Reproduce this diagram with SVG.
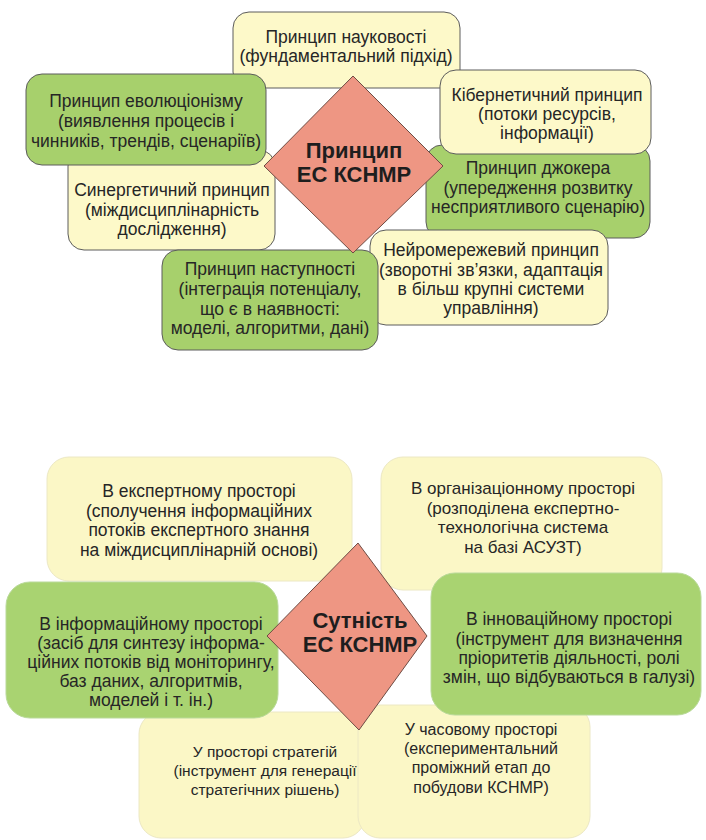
<svg xmlns="http://www.w3.org/2000/svg" width="706" height="840" viewBox="0 0 706 840">
  <style>
    .bg { fill: #ffffff; }
    .ytop { fill: #FDF9C9; stroke: #5c5c5c; stroke-width: 1; }
    .gtop { fill: #A7D06C; stroke: #5c5c5c; stroke-width: 1; }
    .ybot { fill: #FBF7C6; stroke: #ece8c4; stroke-width: 1; }
    .gbot { fill: #A9D371; stroke: #b9d99a; stroke-width: 1; }
    .dia { fill: #EE9683; stroke: #6e4c44; stroke-width: 1; }
    text { font-family: "Liberation Sans", Arial, sans-serif; font-size: 17.5px; fill: #262626; text-anchor: middle; }
    .xs { font-size: 15.5px; }
    .sm { font-size: 16px; }
    .md { font-size: 17px; }
    .title { font-size: 22px; font-weight: bold; fill: #1e1e1e; }
  </style>

  <rect class="bg" x="0" y="0" width="706" height="840"/>

  <!-- Principles of the expert system -->
  <g id="principles">
    <g id="p-science">
      <rect class="ytop" x="233" y="12" width="227" height="76" rx="16"/>
      <text x="346" y="43">Принцип науковості</text>
      <text x="346" y="62">(фундаментальний підхід)</text>
    </g>
    <g id="p-synergy">
      <rect class="ytop" x="68" y="150" width="207" height="100" rx="16"/>
      <text x="172" y="196">Синергетичний принцип</text>
      <text x="172" y="216">(міждисциплінарність</text>
      <text x="172" y="235">дослідження)</text>
    </g>
    <g id="p-evolution">
      <rect class="gtop" x="26" y="74" width="240" height="91" rx="16"/>
      <text x="146" y="107">Принцип еволюціонізму</text>
      <text x="146" y="127">(виявлення процесів і</text>
      <text x="146" y="147">чинників, трендів, сценаріїв)</text>
    </g>
    <g id="p-joker">
      <rect class="gtop" x="426" y="145" width="224" height="93" rx="16"/>
      <text x="538" y="174">Принцип джокера</text>
      <text x="538" y="194">(упередження розвитку</text>
      <text x="538" y="213">несприятливого сценарію)</text>
    </g>
    <g id="p-cybernetic">
      <rect class="ytop" x="440" y="70" width="211" height="84" rx="16"/>
      <text x="547" y="101">Кібернетичний принцип</text>
      <text x="547" y="120">(потоки ресурсів,</text>
      <text x="547" y="139">інформації)</text>
    </g>
    <g id="p-neural">
      <rect class="ytop" x="370" y="230" width="238" height="95" rx="16"/>
      <text x="491" y="256">Нейромережевий принцип</text>
      <text x="491" y="276">(зворотні зв’язки, адаптація</text>
      <text x="491" y="295">в більш крупні системи</text>
      <text x="491" y="314">управління)</text>
    </g>
    <g id="p-continuity">
      <rect class="gtop" x="162" y="250" width="216" height="100" rx="16"/>
      <text x="270" y="275">Принцип наступності</text>
      <text x="270" y="295">(інтеграція потенціалу,</text>
      <text x="270" y="315">що є в наявності:</text>
      <text x="270" y="334">моделі, алгоритми, дані)</text>
    </g>
    <g id="p-center">
      <polygon class="dia" points="353,76 443,166 353,253 264,166"/>
      <text class="title" x="354" y="158">Принцип</text>
      <text class="title" x="354" y="182">ЕС КСНМР</text>
    </g>
  </g>

  <!-- Essence of the expert system -->
  <g id="essence">
    <g id="e-expert">
      <rect class="ybot" x="47" y="457" width="305" height="124" rx="22"/>
      <text x="199" y="497">В експертному просторі</text>
      <text x="199" y="517">(сполучення інформаційних</text>
      <text x="199" y="536">потоків експертного знання</text>
      <text x="199" y="556">на міждисциплінарній основі)</text>
    </g>
    <g id="e-organization">
      <rect class="ybot" x="381" y="457" width="281" height="133" rx="22"/>
      <text class="md" x="523" y="494">В організаціонному просторі</text>
      <text class="md" x="523" y="514">(розподілена експертно-</text>
      <text class="md" x="523" y="533">технологічна система</text>
      <text class="md" x="523" y="553">на базі АСУЗТ)</text>
    </g>
    <g id="e-strategy">
      <rect class="ybot" x="139" y="712" width="226" height="126" rx="22"/>
      <text class="xs" x="265" y="757">У просторі стратегій</text>
      <text class="xs" x="265" y="776">(інструмент для генерації</text>
      <text class="xs" x="265" y="795">стратегічних рішень)</text>
    </g>
    <g id="e-time">
      <rect class="ybot" x="358" y="705" width="232" height="133" rx="22"/>
      <text class="sm" x="481" y="735">У часовому просторі</text>
      <text class="sm" x="481" y="754">(експериментальний</text>
      <text class="sm" x="481" y="773">проміжний етап до</text>
      <text class="sm" x="481" y="793">побудови КСНМР)</text>
    </g>
    <g id="e-information">
      <rect class="gbot" x="6" y="582" width="272" height="136" rx="24"/>
      <text x="151" y="630">В інформаційному просторі</text>
      <text x="151" y="649">(засіб для синтезу інформа-</text>
      <text x="151" y="668">ційних потоків від моніторингу,</text>
      <text x="151" y="687">баз даних, алгоритмів,</text>
      <text x="151" y="706">моделей і т. ін.)</text>
    </g>
    <g id="e-innovation">
      <rect class="gbot" x="431" y="573" width="270" height="142" rx="24"/>
      <text x="569" y="625">В інноваційному просторі</text>
      <text x="569" y="645">(інструмент для визначення</text>
      <text x="569" y="664">пріоритетів діяльності, ролі</text>
      <text x="569" y="683">змін, що відбуваються в галузі)</text>
    </g>
    <g id="e-center">
      <polygon class="dia" points="358,543 427,636 359,730 267,636"/>
      <text class="title" x="360" y="628">Сутність</text>
      <text class="title" x="360" y="652">ЕС КСНМР</text>
    </g>
  </g>

  <!-- no connector lines in this figure -->
  <g id="connectors"/>
</svg>
